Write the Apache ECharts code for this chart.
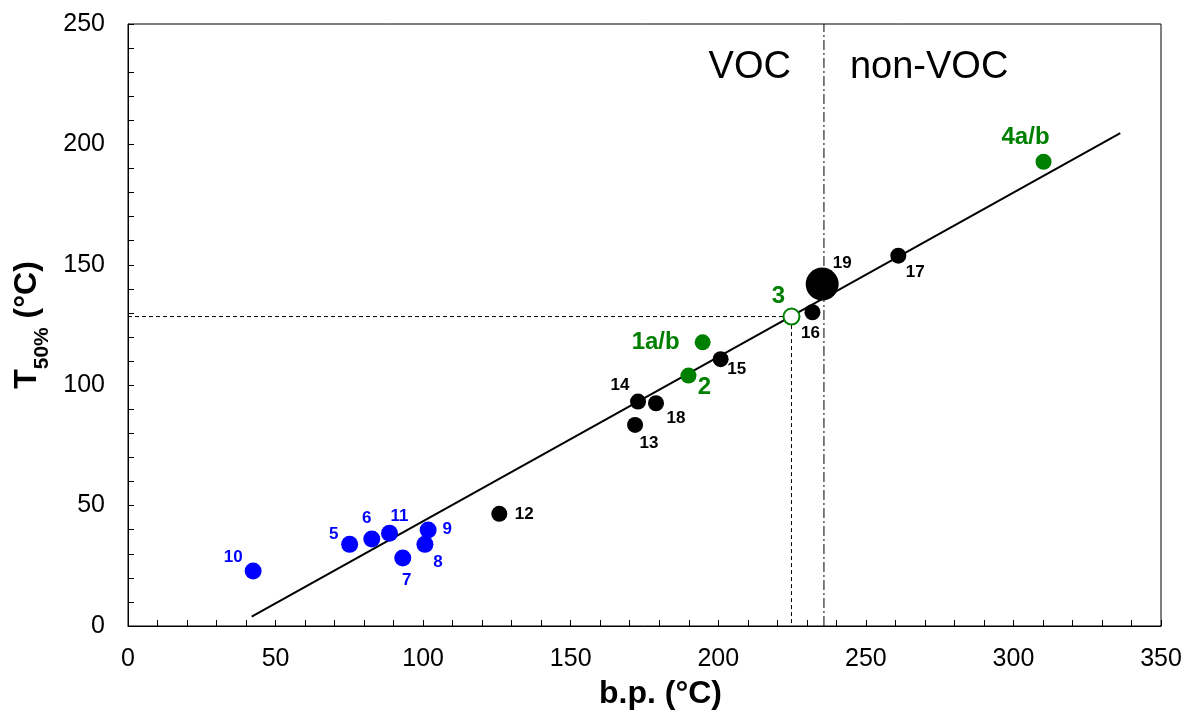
<!DOCTYPE html>
<html>
<head>
<meta charset="utf-8">
<script src="https://cdn.jsdelivr.net/npm/echarts@6/dist/echarts.min.js"></script>
<style>html,body{margin:0;padding:0;background:#fff}#c{width:1189px;height:715px}</style>
</head>
<body>
<div id="c"></div>
<script>
// ---- data ----
const blueNames = ['10','5','6','11','9','8','7'];
const blueBp    = [42.4, 75.1, 82.6, 88.6, 101.7, 100.6, 93.1];
const blueT50   = [22.8, 33.9, 36.1, 38.5, 39.9, 33.9, 28.2];

const blackNames = ['12','14','18','13','15','16','17'];
const blackBp    = [125.8, 172.8, 178.9, 171.8, 200.8, 231.9, 261.0];
const blackT50   = [46.6, 93.2, 92.5, 83.5, 110.8, 130.3, 153.8];

const bigNames = ['19'];
const bigBp    = [235.2];
const bigT50   = [142.0];

const greenNames = ['1a/b','2','4a/b'];
const greenBp    = [194.7, 189.9, 310.2];
const greenT50   = [117.8, 104.0, 192.8];

const openNames = ['3'];
const openBp    = [224.8];
const openT50   = [128.5];

const fitBp  = [41.9, 336.2];
const fitT50 = [3.9, 204.7];

const vocBoundaryBp = 235.8;
const xTicks = [0,50,100,150,200,250,300,350];
const yTicks = [0,50,100,150,200,250];

// ---- label styling (pixel offsets) ----
const labelOffsets = {
  '10':[-20,-14],'5':[-16,-10],'6':[-5,-21],'11':[10,-17],'9':[19,-1],'8':[13,18],'7':[4,22],
  '12':[25,1],'14':[-18,-16],'18':[20,15],'13':[14,18],'15':[16,10],'16':[-2,21],'17':[17,17],
  '19':[20,-21],'1a/b':[-47,0],'2':[16,12],'3':[-13,-20],'4a/b':[-18,-24]
};

const FONT = 'Liberation Sans, Arial, sans-serif';
const BLUE = '#0000ff', GREEN = '#008000';

function pts(names, xs, ys, color, fs) {
  return names.map((n, i) => ({
    value: [xs[i], ys[i]], name: n,
    label: { show: true, formatter: n, position: 'inside', offset: labelOffsets[n],
             color: color, fontWeight: 'bold', fontSize: fs, fontFamily: FONT }
  }));
}

const chart = echarts.init(document.getElementById('c'));
chart.setOption({
  animation: false,
  backgroundColor: '#fff',
  grid: { left: 128, right: 28, top: 24, bottom: 89, show: true, borderColor: '#000', borderWidth: 1 },
  xAxis: {
    type: 'value', min: 0, max: 350, interval: 50,
    name: 'b.p. (°C)', nameLocation: 'middle', nameGap: 52,
    nameTextStyle: { fontFamily: FONT, fontSize: 32, fontWeight: 'bold', color: '#000', padding: [0, 0, 0, 32] },
    axisLine: { show: true, onZero: false, lineStyle: { color: '#000', width: 1 } },
    axisTick: { show: true, inside: true, length: 6, lineStyle: { color: '#000' } },
    minorTick: { show: true, splitNumber: 5, length: 6, lineStyle: { color: '#000' } },
    axisLabel: { fontFamily: FONT, fontSize: 25, color: '#000', margin: 21,
                 formatter: v => xTicks.includes(v) ? String(v) : '' },
    splitLine: { show: false }
  },
  yAxis: {
    type: 'value', min: 0, max: 250, interval: 50,
    name: '{a|T}{b|50%}{a| (°C)}', nameLocation: 'middle', nameGap: 70, nameRotate: 90,
    nameTextStyle: { fontFamily: FONT, color: '#000',
      rich: {
        a: { fontFamily: FONT, fontSize: 32, fontWeight: 'bold', color: '#000', verticalAlign: 'bottom' },
        b: { fontFamily: FONT, fontSize: 21, fontWeight: 'bold', color: '#000', verticalAlign: 'bottom', padding: [0,0,-9,0] }
      } },
    axisLine: { show: true, onZero: false, lineStyle: { color: '#000', width: 1 } },
    axisTick: { show: true, inside: true, length: 6, lineStyle: { color: '#000' } },
    minorTick: { show: true, splitNumber: 5, length: 6, lineStyle: { color: '#000' } },
    axisLabel: { fontFamily: FONT, fontSize: 25, color: '#000', margin: 23,
                 formatter: v => yTicks.includes(v) ? String(v) : '' },
    splitLine: { show: false }
  },
  series: [
    { type: 'line', data: fitBp.map((x, i) => [x, fitT50[i]]), symbol: 'none',
      lineStyle: { color: '#000', width: 2 }, z: 2, silent: true },
    { type: 'line', data: [[0, openT50[0]], [openBp[0], openT50[0]], [openBp[0], 0]], symbol: 'none',
      lineStyle: { color: '#000', width: 1, type: [4, 3] }, z: 1, silent: true },
    { type: 'line', data: [[vocBoundaryBp, 0], [vocBoundaryBp, 250]], symbol: 'none',
      lineStyle: { color: '#000', width: 1, type: [10, 3, 2, 3] }, z: 1, silent: true },
    { type: 'scatter', data: pts(blueNames, blueBp, blueT50, BLUE, 17), symbolSize: 17,
      itemStyle: { color: BLUE, opacity: 1 }, z: 3 },
    { type: 'scatter', data: pts(blackNames, blackBp, blackT50, '#000', 17), symbolSize: 16,
      itemStyle: { color: '#000', opacity: 1 }, z: 3 },
    { type: 'scatter', data: pts(bigNames, bigBp, bigT50, '#000', 17), symbolSize: 33,
      itemStyle: { color: '#000', opacity: 1 }, z: 3 },
    { type: 'scatter', data: pts(greenNames, greenBp, greenT50, GREEN, 24), symbolSize: 16,
      itemStyle: { color: GREEN, opacity: 1 }, z: 3 },
    { type: 'scatter', data: pts(openNames, openBp, openT50, GREEN, 24), symbolSize: 16,
      itemStyle: { color: '#fff', borderColor: GREEN, borderWidth: 2, opacity: 1 }, z: 3 }
  ]
});

const p1 = chart.convertToPixel({ gridIndex: 0 }, [vocBoundaryBp, 232]);
chart.setOption({
  graphic: [
    { type: 'text', x: p1[0] - 33, y: p1[1], style: { text: 'VOC', fontFamily: FONT, fontSize: 38, fill: '#000', align: 'right', verticalAlign: 'middle' } },
    { type: 'text', x: p1[0] + 26, y: p1[1], style: { text: 'non-VOC', fontFamily: FONT, fontSize: 38, fill: '#000', align: 'left', verticalAlign: 'middle' } }
  ]
});
</script>
</body>
</html>
